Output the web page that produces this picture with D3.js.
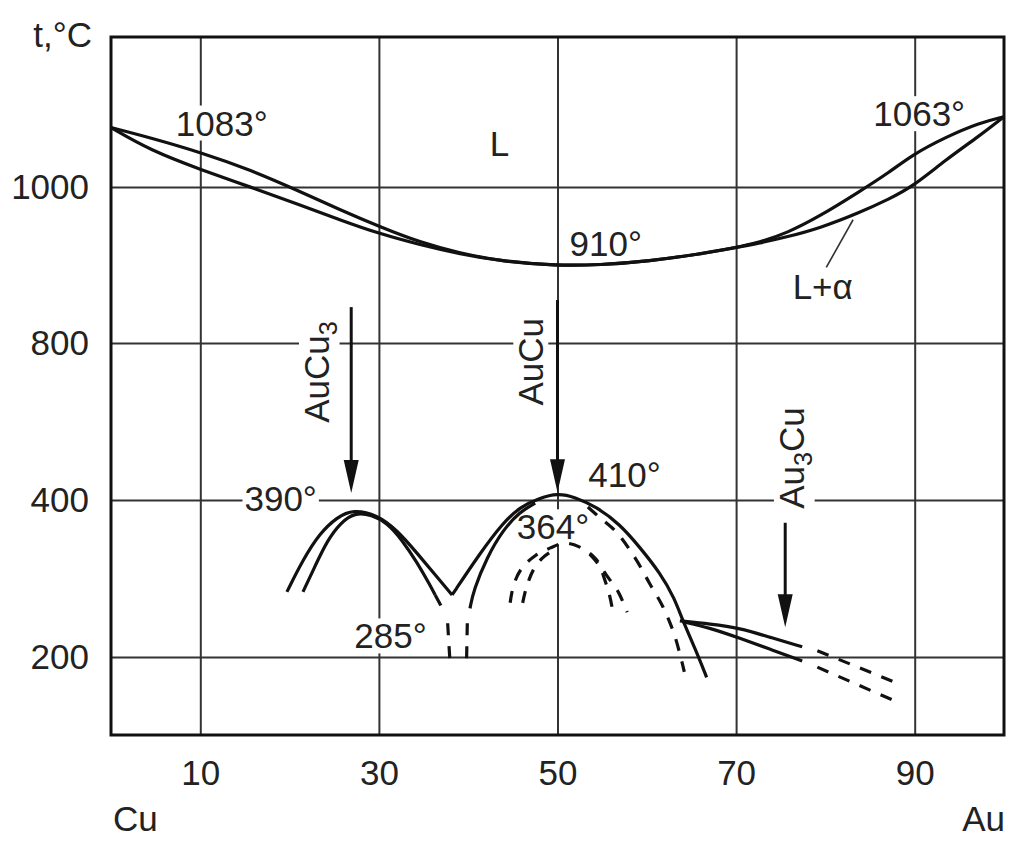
<!DOCTYPE html>
<html>
<head>
<meta charset="utf-8">
<script src="https://cdn.jsdelivr.net/npm/d3@7"></script>
<style>
body { margin: 0; background: #fff; }
text { font-family: "Liberation Sans", Arial, sans-serif; fill: #222; }
</style>
</head>
<body>
<svg id="chart" width="1011" height="841"></svg>
<script>
// composition in at.% Au, temperature in deg C
var xTicks = [10, 30, 50, 70, 90];
var yTicks = [200, 400, 800, 1000];

var liquidus = [[0,1076],[4.4,1063],[10.1,1044],[15.6,1022],[21.2,994],[25.6,971],[30.1,949],
	[34.6,929],[39.1,915],[43.6,905],[49.9,899],[54.7,900],[60.3,905],[65.9,914],[69.8,922],
	[72.6,929],[75.7,941],[79.3,962],[83.8,994],[87.2,1019],[89.7,1041],[93.5,1064],[97.2,1082],[100,1090]];
var solidus = [[0,1076],[4.4,1047],[10.1,1022],[15.6,1000],[21.2,977],[25.6,958],[30.1,940],
	[34.6,926],[39.1,914],[43.6,905],[49.9,899],[54.7,900],[60.3,905],[65.9,914],[69.8,922],
	[72.6,928],[75.7,936],[79.3,947],[83.8,967],[87.2,985],[89.7,1000],[93.5,1035],[97.2,1065],[100,1090]];

// ordered phases, solid lines
var auCu3Outer = [[19.7,283],[21.5,324],[23.4,358],[25.3,378],[27.1,388],[29.8,381],[32.0,362],
	[34.3,332],[36.5,302],[38.2,279]];
var auCu3Inner = [[21.5,283],[22.9,317],[24.2,348],[25.7,371],[27.3,384],[29.2,381],[30.9,371],
	[32.6,349],[34.3,320],[35.7,292],[36.3,279]];
var auCuOuter = [[38.2,279],[41.3,332],[43.9,371],[45.8,391],[48.0,405],[50.0,417],[51.9,408],
	[54.4,391],[57.0,369],[59.2,340],[61.5,307],[63.1,275],[64.0,247],[65.4,211],[66.7,174]];
var auCuInner = [[40.2,262],[40.6,285],[42.1,327],[43.9,362],[45.8,385],[47.5,396]];
var au3CuUpper = [[63.7,246],[67.1,242],[70.4,237],[73.8,225],[77.4,213]];
var au3CuLower = [[64.0,245],[67.1,237],[70.4,224],[73.8,210],[77.4,195]];

// dashed lines
var auCu3InnerTail = [[36.3,279],[37.2,260]];
var dropLeft = [[37.7,243],[38.0,186]];
var dropRight = [[39.9,243],[39.8,186]];
var auCuDashed = [[53.4,391],[54.7,378],[56.6,359],[58.7,326],[60.3,294],[61.8,264],[63.1,228],[64.2,181]];
var dome364a = [[44.7,269],[45.1,292],[46.0,313],[47.5,329],[49.2,339],[50.8,345],[52.5,340],
	[54.2,326],[55.5,304],[56.8,283],[57.8,257]];
var dome364b = [[46.1,269],[46.5,288],[47.3,311],[48.3,326],[49.4,335]];
var dome364c = [[53.6,331],[54.7,316],[55.3,298],[55.8,280],[56.1,264]];
var au3CuUpperTail = [[79.1,208],[87.5,169]];
var au3CuLowerTail = [[79.1,187],[87.5,145]];

var leader = [[83.1,958],[80.1,897]];

// arrows marking stoichiometric compositions: [x, from T, to T]
var arrows = [[26.9,846,418],[50.0,855,420],[75.5,371,238]];

// labels: [text, sub, rest, x, T, rotation]
var labels = [
	["1083°", "", "", 12.4, 1082, 0],
	["1063°", "", "", 90.5, 1094, 0],
	["L", "", "", 43.5, 1056, 0],
	["910°", "", "", 55.4, 928, 0],
	["L+α", "", "", 79.7, 872, 0],
	["390°", "", "", 19.0, 405, 0],
	["410°", "", "", 57.5, 464, 0],
	["364°", "", "", 49.5, 366, 0],
	["285°", "", "", 31.3, 227, 0],
	["AuCu", "3", "", 23.0, 726, -90],
	["AuCu", "", "", 47.0, 752, -90],
	["Au", "3", "Cu", 76.2, 507, -90]
];

var width = 1011, height = 841,
	margin = {top: 37, right: 7, bottom: 106, left: 111},
	fontSize = 35;

var svg = d3.select("#chart");

var x = d3.scaleLinear().domain([0, 100]).range([margin.left, width - margin.right]);
// the temperature axis is not uniform in the original figure
var y = d3.scaleLinear()
	.domain([100, 200, 400, 800, 1000, 1192])
	.range([735, 657, 500, 343, 187, 37]);

var plotW = x(100) - x(0),
	plotH = y(100) - y(1192);

// grid + tick labels
var gx = svg.append("g")
	.attr("transform", "translate(0," + y(100) + ")")
	.call(d3.axisBottom(x).tickValues(xTicks).tickSize(-plotH).tickPadding(25));
var gy = svg.append("g")
	.attr("transform", "translate(" + x(0) + ",0)")
	.call(d3.axisLeft(y).tickValues(yTicks).tickFormat(d3.format("d")).tickSize(-plotW).tickPadding(22));

[gx, gy].forEach(function(g) {
	g.select(".domain").remove();
	g.selectAll(".tick line").attr("stroke", "#333").attr("stroke-width", 2);
	g.selectAll(".tick text")
		.attr("font-size", fontSize)
		.attr("fill", "#222")
		.style("font-family", '"Liberation Sans", Arial, sans-serif');
});

// annotation labels, each on a white patch that breaks the grid
var labelLayer = svg.append("g");
labels.forEach(function(d) {
	var g = labelLayer.append("g")
		.attr("transform", "translate(" + x(d[3]) + "," + y(d[4]) + ") rotate(" + d[5] + ")");
	var t = g.append("text")
		.attr("text-anchor", "middle")
		.attr("dy", "0.36em")
		.attr("font-size", fontSize);
	t.append("tspan").text(d[0]);
	if (d[1]) {
		t.append("tspan").attr("font-size", fontSize * 0.72).attr("dy", "0.3em").text(d[1]);
	}
	if (d[2]) {
		t.append("tspan").attr("dy", "-0.22em").text(d[2]);
	}
	var bb = t.node().getBBox();
	g.insert("rect", "text")
		.attr("x", bb.x - 2).attr("y", bb.y + 2)
		.attr("width", bb.width + 4).attr("height", bb.height - 4)
		.attr("fill", "#fff");
});

var px = function(d) { return x(d[0]); },
	py = function(d) { return y(d[1]); };

var solidLine = d3.line().x(px).y(py).curve(d3.curveBasis);
var dashLine = d3.line().x(px).y(py).curve(d3.curveCatmullRom.alpha(0.5));

var solid = [liquidus, solidus, auCu3Outer, auCu3Inner, auCuOuter, auCuInner, au3CuUpper, au3CuLower];
var dashed = [auCu3InnerTail, dropLeft, dropRight, auCuDashed, dome364a, dome364b, dome364c,
	au3CuUpperTail, au3CuLowerTail];

svg.append("g").selectAll("path")
	.data(solid)
	.enter().append("path")
	.attr("d", solidLine)
	.attr("fill", "none")
	.attr("stroke", "#111")
	.attr("stroke-width", 3.2);

svg.append("g").selectAll("path")
	.data(dashed)
	.enter().append("path")
	.attr("d", dashLine)
	.attr("fill", "none")
	.attr("stroke", "#111")
	.attr("stroke-width", 3.2)
	.attr("stroke-dasharray", "12,11");

svg.append("path")
	.attr("d", d3.line().x(px).y(py)(leader))
	.attr("stroke", "#333")
	.attr("stroke-width", 1.6);

// arrows
var ag = svg.append("g").selectAll("g").data(arrows).enter().append("g");
ag.append("line")
	.attr("x1", function(d) { return x(d[0]); })
	.attr("x2", function(d) { return x(d[0]); })
	.attr("y1", function(d) { return y(d[1]); })
	.attr("y2", function(d) { return y(d[2]) - 20; })
	.attr("stroke", "#111")
	.attr("stroke-width", 3);
ag.append("path")
	.attr("d", function(d) {
		var ax = x(d[0]), ay = y(d[2]);
		return "M" + (ax - 7.5) + "," + (ay - 33) + "L" + (ax + 7.5) + "," + (ay - 33) + "L" + ax + "," + ay + "Z";
	})
	.attr("fill", "#111");

// frame
svg.append("rect")
	.attr("x", x(0)).attr("y", y(1192))
	.attr("width", plotW).attr("height", plotH)
	.attr("fill", "none")
	.attr("stroke", "#111")
	.attr("stroke-width", 3);

// axis captions
svg.append("text")
	.attr("x", x(0) - 19).attr("y", 34).attr("dy", "0.36em")
	.attr("text-anchor", "end")
	.attr("font-size", fontSize)
	.text("t,°C");
svg.append("text")
	.attr("x", x(0) + 2).attr("y", 818).attr("dy", "0.36em")
	.attr("font-size", fontSize)
	.text("Cu");
svg.append("text")
	.attr("x", x(100) + 1).attr("y", 818).attr("dy", "0.36em")
	.attr("text-anchor", "end")
	.attr("font-size", fontSize)
	.text("Au");
</script>
</body>
</html>
